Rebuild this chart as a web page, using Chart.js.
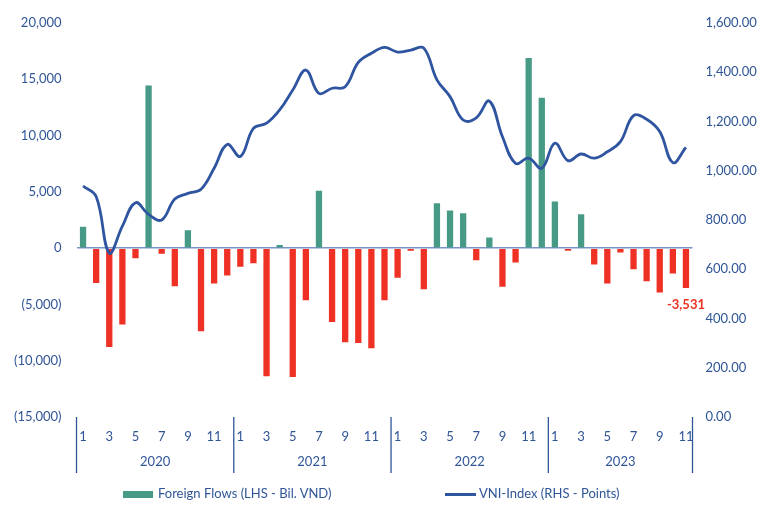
<!DOCTYPE html>
<html>
<head>
<meta charset="utf-8">
<script src="https://cdn.jsdelivr.net/npm/chart.js@4.4.0/dist/chart.umd.min.js"></script>
<style>
  body { margin: 0; background: #fff; }
  #wrap { position: relative; width: 765px; height: 523px; }
  .leg { position: absolute; top: 485px; font: 13px Lato, sans-serif; color: #2F5597; white-space: nowrap; }
  .sw { display: inline-block; vertical-align: middle; margin-right: 5px; }
</style>
</head>
<body>
<div id="wrap">
  <canvas id="flowChart"></canvas>
  <div class="leg" style="left:123px"><span class="sw" style="width:30px;height:7px;background:#479A85"></span>Foreign Flows (LHS - Bil. VND)</div>
  <div class="leg" style="left:445px"><span class="sw" style="width:31px;height:3px;background:#2F55A0;margin-right:3px"></span>VNI-Index (RHS - Points)</div>
</div>
<script>
const years = ['2020', '2021', '2022', '2023'];
const monthsPerYear = [12, 12, 12, 11];

// foreign net flows, bil. VND
const flows = [
  1900, -3100, -8780, -6790, -890, 14440, -500, -3380, 1600, -7380, -3140, -2430,
  -1660, -1340, -11390, 270, -11450, -4630, 5100, -6560, -8360, -8420, -8900, -4630,
  -2640, -240, -3650, 3980, 3350, 3110, -1070, 950, -3440, -1270, 16900, 13370,
  4150, -240, 3020, -1450, -3140, -380, -1870, -2940, -3940, -2250, -3531
];

// VNI-Index, points
const vni = [
  938, 895, 666, 775, 870, 823, 800, 885, 908, 925, 1010, 1107,
  1058, 1172, 1193, 1247, 1328, 1409, 1314, 1335, 1341, 1440, 1477, 1501,
  1482, 1490, 1498, 1369, 1301, 1206, 1215, 1283, 1138, 1030, 1051, 1010,
  1112, 1041, 1068, 1051, 1077, 1118, 1224, 1209, 1159, 1033, 1095
];

const leftTicks = [-15000, -10000, -5000, 0, 5000, 10000, 15000, 20000];
const rightTicks = [0, 200, 400, 600, 800, 1000, 1200, 1400, 1600];

let labels = [];
years.forEach((y, k) => {
  for (let m = 1; m <= monthsPerYear[k]; m++) labels.push(m + '/' + y);
});

const blue = '#2F5597';
const green = '#479A85';
const red = '#EE3124';

const yearPlugin = {
  id: 'years',
  afterDraw(chart) {
    const ctx = chart.ctx;
    const x = chart.scales.x;
    const half = (x.getPixelForValue(1) - x.getPixelForValue(0)) / 2;
    const top = chart.chartArea.bottom;
    ctx.save();
    ctx.strokeStyle = blue;
    ctx.lineWidth = 1.3;
    ctx.fillStyle = blue;
    ctx.font = '13px Lato';
    ctx.textAlign = 'center';
    ctx.textBaseline = 'middle';
    let start = 0;
    years.forEach((y, k) => {
      const end = start + monthsPerYear[k] - 1;
      const l = x.getPixelForValue(start) - half;
      const r = x.getPixelForValue(end) + half;
      ctx.beginPath();
      ctx.moveTo(l, top);
      ctx.lineTo(l, top + 56);
      if (k === years.length - 1) {
        ctx.moveTo(r, top);
        ctx.lineTo(r, top + 56);
      }
      ctx.stroke();
      ctx.fillText(y, (l + r) / 2, top + 45);
      start = end + 1;
    });
    // last value label
    const bars = chart.getDatasetMeta(0).data;
    const last = bars[bars.length - 1];
    ctx.fillStyle = red;
    ctx.font = 'bold 13px Lato';
    ctx.textBaseline = 'top';
    ctx.fillText(flows[flows.length - 1].toLocaleString('en-US'), last.x, last.y + 10);
    ctx.restore();
  }
};

new Chart(document.getElementById('flowChart'), {
  data: {
    labels: labels,
    datasets: [{
      type: 'bar',
      label: 'Foreign Flows (LHS - Bil. VND)',
      data: flows,
      backgroundColor: flows.map(v => v >= 0 ? green : red),
      categoryPercentage: 1,
      barPercentage: 0.48,
      yAxisID: 'y',
      order: 2
    }, {
      type: 'line',
      label: 'VNI-Index (RHS - Points)',
      data: vni,
      borderColor: '#2F55A0',
      borderWidth: 2.8,
      pointRadius: 0,
      tension: 0.4,
      yAxisID: 'y1',
      order: 1
    }]
  },
  options: {
    responsive: true,
    maintainAspectRatio: false,
    animation: false,
    layout: { padding: { top: 23, left: 0, right: 0, bottom: 0 } },
    plugins: { legend: { display: false }, tooltip: { enabled: false } },
    scales: {
      x: {
        grid: { display: false, drawTicks: false },
        border: { display: false },
        ticks: {
          autoSkip: false,
          maxRotation: 0,
          padding: 12,
          color: blue,
          font: { family: 'Lato', size: 13 },
          callback: function(v, i) {
            const m = parseInt(labels[i]);
            return m % 2 === 1 ? String(m) : '';
          }
        },
        afterFit(s) { s.height = 106; }
      },
      y: {
        position: 'left',
        min: -15000,
        max: 20000,
        afterBuildTicks(s) { s.ticks = leftTicks.map(v => ({ value: v })); },
        grid: {
          drawTicks: false,
          color: c => c.tick && c.tick.value === 0 ? '#7A93C8' : 'rgba(0,0,0,0)',
          lineWidth: 1.5
        },
        border: { display: false },
        ticks: {
          padding: 15,
          color: blue,
          font: { family: 'Lato', size: 13 },
          callback: v => v < 0 ? '(' + Math.abs(v).toLocaleString('en-US') + ')' : v.toLocaleString('en-US')
        },
        afterFit(s) { s.width = 76.5; }
      },
      y1: {
        position: 'right',
        min: 0,
        max: 1600,
        afterBuildTicks(s) { s.ticks = rightTicks.map(v => ({ value: v })); },
        grid: { display: false, drawTicks: false },
        border: { display: false },
        ticks: {
          padding: 13,
          color: blue,
          font: { family: 'Lato', size: 13 },
          callback: v => v.toLocaleString('en-US', { minimumFractionDigits: 2, maximumFractionDigits: 2 })
        },
        afterFit(s) { s.width = 72.5; }
      }
    }
  },
  plugins: [yearPlugin]
});
</script>
</body>
</html>
